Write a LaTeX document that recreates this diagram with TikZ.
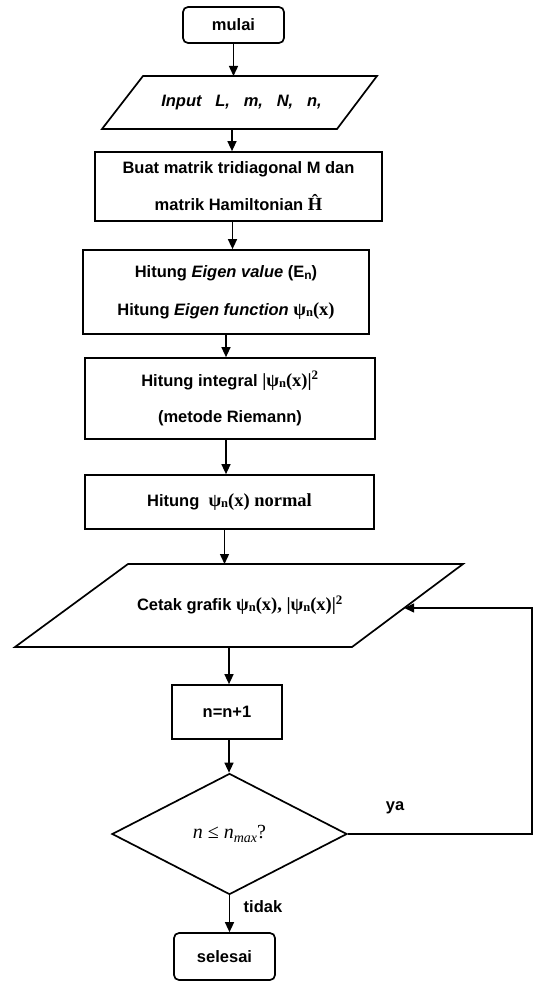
\documentclass[tikz,border=0pt]{standalone}
\usepackage{fontspec}
\setmainfont{Liberation Sans}
\newfontfamily\serif{Liberation Serif}
\usetikzlibrary{shapes.geometric,arrows.meta,calc}

\newcommand{\psin}{{\serif\bfseries\fontsize{18.5}{18.5}\selectfont ψ\raisebox{-1pt}{\fontsize{12.5}{12.5}\selectfont n}(x)}}
\newcommand{\sbar}[1]{{\serif\bfseries\fontsize{18.5}{18.5}\selectfont #1}}

\begin{document}
\begin{tikzpicture}[x=1pt,y=-1pt,
    font=\fontsize{16.5}{19}\selectfont\bfseries,
    every node/.style={line width=1.7pt},
    term/.style={draw, rounded corners=5pt, minimum width=101pt, minimum height=36pt, inner sep=0pt},
    proc/.style={draw, rectangle, inner sep=0pt},
    decide/.style={draw, diamond, inner sep=0pt},
    io/.style={line width=1.7pt, line join=miter},
    arr/.style={line width=1.4pt, -{Triangle[length=10pt,width=9pt]}}]
  \useasboundingbox (0,0) rectangle (534,982);

  % Draw nodes
  \node[term] (mulai) at (233.5,25) {mulai};

  \coordinate (in-tl) at (143,76);  \coordinate (in-tr) at (377,76);
  \coordinate (in-br) at (337,129); \coordinate (in-bl) at (102,129);
  \draw[io] (in-tl) -- (in-tr) -- (in-br) -- (in-bl) -- cycle;
  \node (input) at (241.5,102.5) {\itshape Input~~ L,~~ m,~~ N,~~ n,};

  \node[proc, minimum width=287pt, minimum height=69pt, align=center,
        font=\fontsize{16.5}{37}\selectfont\bfseries] (buat) at (238.5,186.5)
        {Buat matrik tridiagonal M dan\\matrik Hamiltonian \sbar{Ĥ}};
  \node[proc, minimum width=286pt, minimum height=84pt, align=center,
        font=\fontsize{16.5}{38}\selectfont\bfseries] (eigen) at (226,292)
        {Hitung \textit{Eigen value} (E\raisebox{-2pt}{\fontsize{12}{12}\selectfont n})\\
         Hitung \textit{Eigen function} \psin};
  \node[proc, minimum width=290pt, minimum height=81pt, align=center,
        font=\fontsize{16.5}{36}\selectfont\bfseries] (integral) at (230,398.5)
        {Hitung integral \sbar{|}\psin\sbar{|\textsuperscript{2}}\\(metode Riemann)};
  \node[proc, minimum width=289pt, minimum height=54pt] (normal) at (229.5,502)
        {Hitung~ \psin{} \sbar{normal}};

  \coordinate (ct-tl) at (128,564); \coordinate (ct-tr) at (463,564);
  \coordinate (ct-br) at (352,647); \coordinate (ct-bl) at (15,647);
  \draw[io] (ct-tl) -- (ct-tr) -- (ct-br) -- (ct-bl) -- cycle;
  \node (cetak) at (240,605.5) {Cetak grafik \psin\sbar{,} \sbar{|}\psin\sbar{|\textsuperscript{2}}};
  \coordinate (ct-in) at ($(ct-tr)!0.53!(ct-br)$);

  \node[proc, minimum width=110pt, minimum height=54pt] (tambah) at (227,712) {n=n+1};
  \node[decide, minimum width=235pt, minimum height=121pt] (cek) at (229.5,834)
        {\serif\mdseries\fontsize{20}{22}\selectfont\textit{n} ≤ \textit{n}\raisebox{-3.5pt}{\fontsize{14}{14}\selectfont\itshape max}?};
  \node[term, minimum height=47pt] (selesai) at (224.5,956.5) {selesai};
  \coordinate (kanan) at (532,834);

  % Draw arrows
  \draw[arr] (mulai.south) -- (mulai.south |- in-tl);
  \draw[arr] ([xshift=-1.5pt]mulai.south |- in-bl) -- ([xshift=-1.5pt]mulai.south |- buat.north);
  \draw[arr] ([xshift=-6pt]buat.south) -- ([xshift=-6pt]buat.south |- eigen.north);
  \draw[arr] (eigen.south) -- (eigen.south |- integral.north);
  \draw[arr] ([xshift=-4pt]integral.south) -- ([xshift=-4pt]integral.south |- normal.north);
  \draw[arr] ([xshift=-5pt]normal.south) -- ([xshift=-5pt]normal.south |- ct-tl);
  \draw[arr] ([xshift=2pt]tambah.north |- ct-bl) -- ([xshift=2pt]tambah.north);
  \draw[arr] ([xshift=2pt]tambah.south) -- ([xshift=2pt]tambah.south |- cek.north);
  \draw[arr] (cek.south) -- (cek.south |- selesai.north);
  \draw[arr] (cek.east) -- (kanan) |- (ct-in);

  \node at (395,808) {ya};
  \node at (263,907) {tidak};
\end{tikzpicture}
\end{document}
